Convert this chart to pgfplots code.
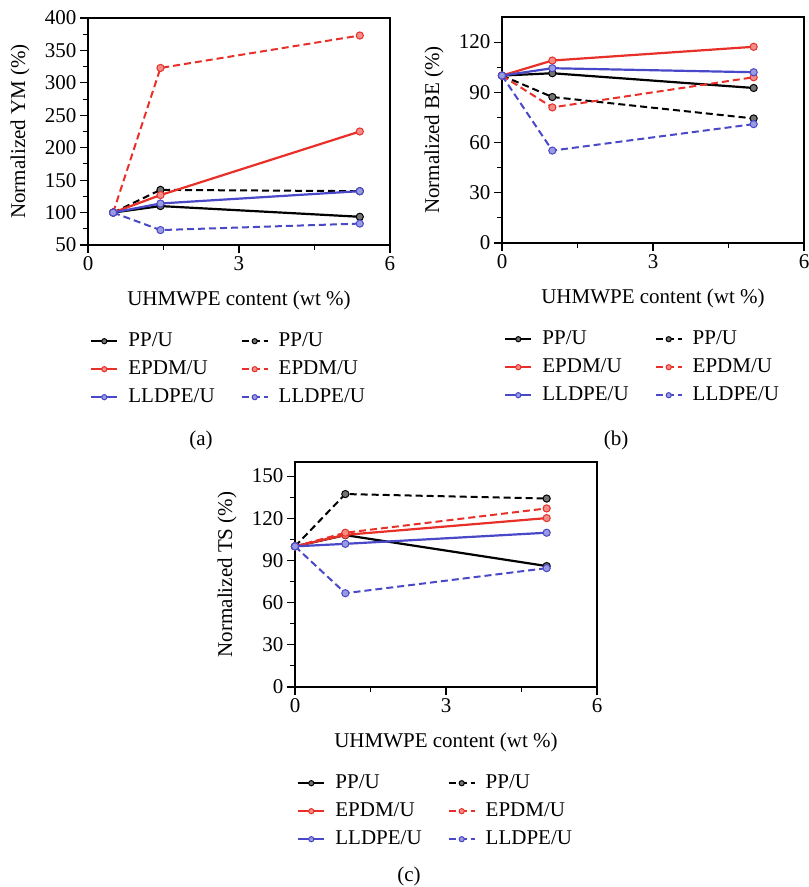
\documentclass[border=0pt]{standalone}
\usepackage{fontspec}
\setmainfont{Liberation Serif}
\usepackage{pgfplots}
\pgfplotsset{compat=1.18}
\definecolor{myred}{RGB}{232,48,40}
\definecolor{myblue}{RGB}{72,72,200}
\pgfplotsset{
  panel/.style={
    scale only axis, width=302pt,
    font=\fontsize{21}{25}\selectfont,
    /pgf/number format/assume math mode=true,
    xmin=0, xmax=6, xtick={0,3,6}, minor xtick={1.5,4.5},
    tick align=outside, xtick pos=lower, ytick pos=left,
    major tick length=8pt, minor tick length=5pt,
    axis line style={line width=1.2pt},
    every tick/.style={line width=1.1pt, black},
    clip mode=individual,
    xlabel={UHMWPE content (wt \%)},
    xlabel style={at={(axis description cs:0.5,0)}, anchor=center, yshift=-55pt},
    ylabel style={at={(axis description cs:-0.225,0.5)}, anchor=center},
    legend columns=2,
    legend cell align=left,
    legend style={draw=none, fill=none, inner sep=0pt,
      at={(axis description cs:0,0)}, anchor=north west, xshift=2pt, yshift=-87pt,
      font=\fontsize{21}{25}\selectfont,
      nodes={inner sep=0pt, text height=14pt, text depth=4pt},
      row sep=10pt,
      /tikz/every odd column/.append style={column sep=10pt},
      /tikz/every even column/.append style={column sep=26pt}},
    legend image code/.code={
      \draw[mark repeat=2, mark phase=2, #1, mark size=2.6pt]
        plot coordinates {(0pt,0pt) (13pt,0pt) (26pt,0pt)};},
  },
  sPP/.style={black, line width=2.2pt, mark=*, mark size=3.6pt, mark options={solid, fill=black!55!white, draw=black, line width=1pt}},
  dPP/.style={black, line width=2pt, dash pattern=on 7pt off 4pt, mark=*, mark size=3.6pt, mark options={solid, fill=black!55!white, draw=black, line width=1pt}},
  sEP/.style={myred, line width=2.2pt, mark=*, mark size=3.6pt, mark options={solid, fill=myred!55!white, draw=myred, line width=1pt}},
  dEP/.style={myred, line width=2pt, dash pattern=on 7pt off 4pt, mark=*, mark size=3.6pt, mark options={solid, fill=myred!55!white, draw=myred, line width=1pt}},
  sLL/.style={myblue, line width=2.2pt, mark=*, mark size=3.6pt, mark options={solid, fill=myblue!55!white, draw=myblue, line width=1pt}},
  dLL/.style={myblue, line width=2pt, dash pattern=on 7pt off 4pt, mark=*, mark size=3.6pt, mark options={solid, fill=myblue!55!white, draw=myblue, line width=1pt}},
}
\begin{document}
\begin{tikzpicture}[x=1pt,y=1pt]
\useasboundingbox (0,0) rectangle (809,887);
% ---------------- (a)
\begin{axis}[panel, at={(88pt,642pt)}, anchor=south west, height=227pt,
  ymin=50, ymax=400, ytick={50,100,...,400}, minor ytick={75,125,...,375},
  ylabel={Normalized YM (\%)}]
\addplot[sPP] coordinates {(0.5,100) (1.44,110) (5.4,93.5)};
\addlegendentry{PP/U}
\addplot[dPP] coordinates {(0.5,100) (1.44,135) (5.4,133)};
\addlegendentry{PP/U}
\addplot[sEP] coordinates {(0.5,100) (1.44,127) (5.4,225)};
\addlegendentry{EPDM/U}
\addplot[dEP] coordinates {(0.5,100) (1.44,323) (5.4,373)};
\addlegendentry{EPDM/U}
\addplot[sLL] coordinates {(0.5,100) (1.44,114) (5.4,133)};
\addlegendentry{LLDPE/U}
\addplot[dLL] coordinates {(0.5,100) (1.44,73) (5.4,83)};
\addlegendentry{LLDPE/U}
\end{axis}
% ---------------- (b)
\begin{axis}[panel, at={(502pt,644pt)}, anchor=south west, height=226pt,
  ymin=0, ymax=135, ytick={0,30,...,120}, minor ytick={15,45,...,105},
  ylabel={Normalized BE (\%)}]
\addplot[sPP] coordinates {(0,100) (1,101.4) (5,92.6)};
\addlegendentry{PP/U}
\addplot[dPP] coordinates {(0,100) (1,87.2) (5,74.4)};
\addlegendentry{PP/U}
\addplot[sEP] coordinates {(0,100) (1,109) (5,117.2)};
\addlegendentry{EPDM/U}
\addplot[dEP] coordinates {(0,100) (1,81) (5,99)};
\addlegendentry{EPDM/U}
\addplot[sLL] coordinates {(0,100) (1,104.4) (5,102)};
\addlegendentry{LLDPE/U}
\addplot[dLL] coordinates {(0,100) (1,55.2) (5,71)};
\addlegendentry{LLDPE/U}
\end{axis}
% ---------------- (c)
\begin{axis}[panel, at={(295pt,200pt)}, anchor=south west, height=225pt,
  ymin=0, ymax=160, ytick={0,30,...,150}, minor ytick={15,45,...,135},
  ylabel={Normalized TS (\%)}]
\addplot[sPP] coordinates {(0,100) (1,108) (5,86)};
\addlegendentry{PP/U}
\addplot[dPP] coordinates {(0,100) (1,137.2) (5,134)};
\addlegendentry{PP/U}
\addplot[sEP] coordinates {(0,100) (1,108.2) (5,120.1)};
\addlegendentry{EPDM/U}
\addplot[dEP] coordinates {(0,100) (1,109.7) (5,127)};
\addlegendentry{EPDM/U}
\addplot[sLL] coordinates {(0,100) (1,101.8) (5,109.7)};
\addlegendentry{LLDPE/U}
\addplot[dLL] coordinates {(0,100) (1,66.7) (5,84.5)};
\addlegendentry{LLDPE/U}
\end{axis}
\node[font=\fontsize{21}{25}\selectfont] at (201,447) {(a)};
\node[font=\fontsize{21}{25}\selectfont] at (616,447) {(b)};
\node[font=\fontsize{21}{25}\selectfont] at (409,11) {(c)};
\end{tikzpicture}
\end{document}
